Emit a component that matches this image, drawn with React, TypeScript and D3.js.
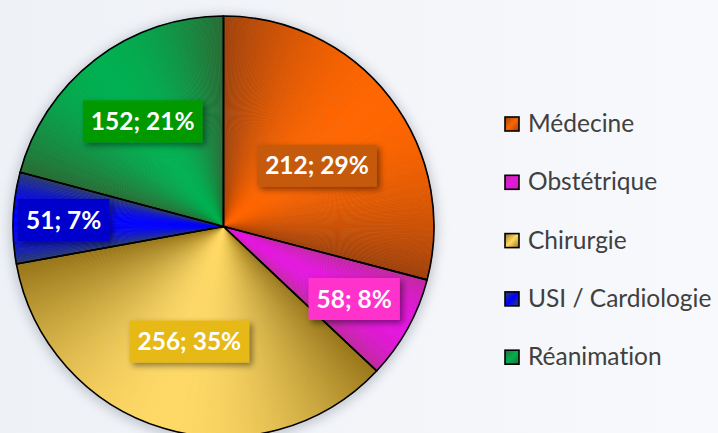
import React, { useEffect, useRef } from "react";
import * as d3 from "d3";

const categories = ["Médecine", "Obstétrique", "Chirurgie", "USI / Cardiologie", "Réanimation"];
const values = [212, 58, 256, 51, 152];
const percentLabels = ["29%", "8%", "35%", "7%", "21%"];

const brightColors = ["#FF6600", "#E617E0", "#FFD966", "#0000FF", "#00B050"];
const darkColors = ["#9E420E", "#BF2A9C", "#977518", "#2E4066", "#2A6A34"];
const boxColors = ["#C55A11", "#FF33CC", "#E6B915", "#0000CC", "#009900"];
const labelRadiusFactor = [0.53, 0.71, 0.57, 0.76, 0.63];
const labelAngleShift = [0.08, 0, 0, 0, 0];

const W = 718;
const H = 433;
const CX = 223.5;
const CY = 226.5;
const R = 210.5;

export default function App() {
  const ref = useRef<SVGSVGElement>(null);
  useEffect(() => {
    const svg = d3.select(ref.current);
    svg.selectAll("*").remove();
    const defs = svg.append("defs");

    const bg = defs.append("linearGradient").attr("id", "bg").attr("x1", 0).attr("y1", 0).attr("x2", 1).attr("y2", 0);
    bg.append("stop").attr("offset", "0%").attr("stop-color", "#EEF1F6");
    bg.append("stop").attr("offset", "100%").attr("stop-color", "#F8F9FC");
    svg.append("rect").attr("width", W).attr("height", H).attr("fill", "url(#bg)");

    const f = defs.append("filter").attr("id", "pieShadow").attr("x", "-20%").attr("y", "-20%").attr("width", "140%").attr("height", "140%");
    f.append("feGaussianBlur").attr("stdDeviation", 6);
    const bs = defs.append("filter").attr("id", "boxShadow").attr("x", "-20%").attr("y", "-30%").attr("width", "150%").attr("height", "170%");
    bs.append("feDropShadow").attr("dx", 3).attr("dy", 3).attr("stdDeviation", 3).attr("flood-color", "#000").attr("flood-opacity", 0.45);

    svg.append("circle").attr("cx", CX).attr("cy", CY + 2).attr("r", R + 3)
      .attr("fill", "#8f96a3").attr("opacity", 0.5).attr("filter", "url(#pieShadow)");

    const pie = d3.pie<number>().sort(null).value((d) => d);
    const arcs = pie(values);
    const g = svg.append("g").attr("transform", `translate(${CX},${CY})`);
    const arcGen = d3.arc<any>().innerRadius(0).outerRadius(R);

    arcs.forEach((a, i) => {
      const span = a.endAngle - a.startAngle;
      const n = Math.max(12, Math.ceil(span / (Math.PI / 360)));
      const step = span / n;
      const interp = d3.interpolateRgb(darkColors[i], brightColors[i]);
      for (let k = 0; k < n; k++) {
        const t = (k + 0.5) / n;
        const s = Math.pow(Math.sin(Math.PI * t), 0.9);
        const c = interp(s);
        g.append("path")
          .attr("d", arcGen({ startAngle: a.startAngle + k * step, endAngle: a.startAngle + (k + 1) * step + 0.002 }))
          .attr("fill", c).attr("stroke", c).attr("stroke-width", 0.4);
      }
    });

    g.selectAll("path.outline").data(arcs).join("path").attr("class", "outline")
      .attr("d", arcGen as any).attr("fill", "none").attr("stroke", "#000")
      .attr("stroke-width", 1.6).attr("stroke-linejoin", "round");

    arcs.forEach((a, i) => {
      const rho = R * labelRadiusFactor[i];
      const shifted = { startAngle: a.startAngle + labelAngleShift[i], endAngle: a.endAngle + labelAngleShift[i] };
      const [x, y] = d3.arc<any>().innerRadius(rho).outerRadius(rho).centroid(shifted);
      const lg = g.append("g").attr("transform", `translate(${x},${y})`);
      const rect = lg.append("rect");
      const txt = lg.append("text").attr("text-anchor", "middle").attr("dy", "0.36em")
        .attr("font-family", "Lato, 'Open Sans', sans-serif").attr("font-weight", 700)
        .style("font-variant-ligatures", "none")
        .attr("font-size", 24.5).attr("fill", "#fff").text(`${values[i]}; ${percentLabels[i]}`);
      const bw = (txt.node() as SVGTextElement).getComputedTextLength() + 16;
      const bh = 42;
      rect.attr("x", -bw / 2).attr("y", -bh / 2).attr("width", bw).attr("height", bh)
        .attr("fill", boxColors[i]).attr("filter", "url(#boxShadow)");
    });

    const legend = svg.append("g");
    categories.forEach((c, i) => {
      const gid = `lg${i}`;
      const lgd = defs.append("linearGradient").attr("id", gid).attr("x1", 0).attr("y1", 0).attr("x2", 1).attr("y2", 1);
      lgd.append("stop").attr("offset", "0%").attr("stop-color", darkColors[i]);
      lgd.append("stop").attr("offset", "50%").attr("stop-color", brightColors[i]);
      lgd.append("stop").attr("offset", "100%").attr("stop-color", darkColors[i]);
      const baseY = 132 + i * 58.3;
      legend.append("rect").attr("x", 505).attr("y", baseY - 15).attr("width", 14).attr("height", 14)
        .attr("fill", `url(#${gid})`).attr("stroke", "#000").attr("stroke-width", 1.6);
      legend.append("text").attr("x", 528).attr("y", baseY)
        .attr("font-family", "Lato, 'Open Sans', sans-serif").attr("font-size", 24.5)
        .style("font-variant-ligatures", "none")
        .attr("fill", "#404040").text(c);
    });
  }, []);

  return (
    <svg ref={ref} width={W} height={H} style={{ position: "absolute", left: 0, top: 0, display: "block" }} />
  );
}
